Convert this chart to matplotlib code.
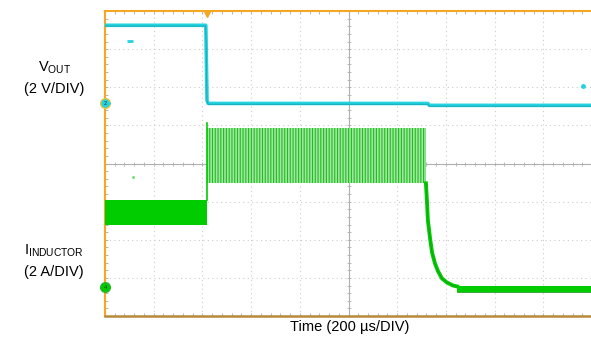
import numpy as np
import matplotlib
matplotlib.use("Agg")
import matplotlib.pyplot as plt

plt.rcParams['font.family'] = ['Liberation Sans', 'DejaVu Sans']
plt.rcParams['mathtext.fontset'] = 'custom'
plt.rcParams['mathtext.rm'] = 'Liberation Sans'
plt.rcParams['hatch.linewidth'] = 0.8

# ---------------- data (physical units) ----------------
# V_OUT trace (time in µs, volts)
vout_t = [0, 414, 419, 424, 1326, 1332, 2000]
vout_v = [4.1, 4.1, 0.15, 0.0, 0.0, -0.1, -0.1]

# Inductor current: normal switching band before the short
i_pre_t = [0, 419]
i_pre_lo = [3.25, 3.25]
i_pre_hi = [4.57, 4.57]

# Current-limit ripple band during the fault
i_fault_t = [419, 1318]
i_fault_lo = [5.46, 5.46]
i_fault_hi = [8.35, 8.35]

# Decay after the output is shut down
i_decay_t = [1318, 1322, 1326, 1335, 1343, 1355, 1368, 1384, 1404, 1429, 1446]
i_decay_i = [5.46, 4.57, 3.52, 2.57, 1.84, 1.26, 0.84, 0.47, 0.26, 0.10, 0.05]

# Residual band after shutdown
i_post_t = [1446, 2000]
i_post_lo = [-0.26, -0.26]
i_post_hi = [0.05, 0.05]

# Stray samples
v_glitch_t = [103, 1963]
v_glitch_v = [3.3, 0.9]
i_glitch_t = [115]
i_glitch_i = [5.77]

# ---------------- scope settings ----------------
time_per_div = 200.0
volt_per_div = 2.0
amp_per_div = 2.0
ch2_offset = 1.575     # divisions
ch4_offset = -3.25     # divisions
trigger_t = 419

cyan = '#22d3e0'
green = '#00cc00'
orange = '#f5a623'

def tx(t):
    return np.asarray(t, dtype=float) / time_per_div

def vy(v):
    return np.asarray(v, dtype=float) / volt_per_div + ch2_offset

def iy(i):
    return np.asarray(i, dtype=float) / amp_per_div + ch4_offset

fig = plt.figure(figsize=(5.91, 3.39), dpi=100)
W, H = 591, 339
ax = fig.add_axes([105 / W, 23 / H, 487 / W, 305 / H])
ax.set_xlim(0, 10)
ax.set_ylim(-4, 4)

# grid
for k in range(1, 10):
    ax.axvline(k, color='#cccccc', lw=0.8, ls=(0, (1, 3)), zorder=1)
for k in range(-3, 4):
    ax.axhline(k, color='#cccccc', lw=0.8, ls=(0, (1, 3)), zorder=1)
ax.axvline(5, color='#b0b0b0', lw=0.8, zorder=1)
ax.axhline(0, color='#b0b0b0', lw=0.8, zorder=1)
minor_x = np.arange(0, 10.01, 0.2)
minor_y = np.arange(-4, 4.01, 0.2)
ax.plot(minor_x, np.zeros_like(minor_x), ls='none', marker='|', ms=3.5, mew=0.6, color='#b0b0b0', zorder=1)
ax.plot(np.full_like(minor_y, 5), minor_y, ls='none', marker='_', ms=3.5, mew=0.6, color='#b0b0b0', zorder=1)

ax.set_xticks([])
ax.set_yticks([])
ax.set_xticks(minor_x, minor=True)
ax.set_yticks(minor_y, minor=True)
ax.tick_params(which='minor', direction='in', length=2.5, width=0.6, color='#aaaaaa',
               top=True, bottom=True, left=True, right=False, labelbottom=False, labelleft=False)

for s in ['left', 'top']:
    ax.spines[s].set_color(orange)
    ax.spines[s].set_linewidth(1.5)
ax.spines['bottom'].set_color('#b8893a')
ax.spines['bottom'].set_linewidth(1.8)
ax.spines['right'].set_visible(False)

# current traces
ax.fill_between(tx(i_pre_t), iy(i_pre_lo), iy(i_pre_hi), color=green, lw=0, zorder=3)
ax.fill_between(tx(i_fault_t), iy(i_fault_lo), iy(i_fault_hi), facecolor='#a0e8a0',
                edgecolor='#22bb22', hatch='||||||', lw=0, zorder=3)
ax.plot([tx(trigger_t)] * 2, [iy(i_pre_hi[0]), iy(i_fault_hi[0]) + 0.15], color=green, lw=1.2, zorder=3)
ax.plot(tx(i_decay_t), iy(i_decay_i), color=green, lw=2.8, solid_joinstyle='round', zorder=3)
ax.plot(tx(i_decay_t), iy(i_decay_i), color='#1a9a1a', lw=0.6, zorder=3)
ax.fill_between(tx(i_post_t), iy(i_post_lo), iy(i_post_hi), color=green, lw=0, zorder=3)
ax.plot(tx(i_post_t), iy(i_post_lo), color='#1a9a1a', lw=0.6, zorder=3)
ax.plot(tx(i_glitch_t), iy(i_glitch_i), ls='none', marker='.', ms=2, color='#66dd66', zorder=3)

# voltage trace
ax.plot(tx(vout_t), vy(vout_v), color=cyan, lw=2.6, zorder=4)
ax.plot(tx(vout_t), vy(vout_v) - 0.02, color='#1a9aa8', lw=0.5, zorder=4)
ax.plot(tx(v_glitch_t[:1]), vy(v_glitch_v[:1]), ls='none', marker='_', ms=5, mew=2, color=cyan, zorder=4)
ax.plot(tx(v_glitch_t[1:]), vy(v_glitch_v[1:]), ls='none', marker='o', ms=2.5, color=cyan, zorder=4)

# channel ground markers and trigger marker
ax.plot([0], [ch2_offset], marker='o', ms=7, color=cyan, mec='#e8c040', mew=1, clip_on=False, zorder=6)
ax.text(0, ch2_offset, '2', fontsize=4, ha='center', va='center', color='#333333', zorder=7)
ax.plot([0.07], [ch2_offset], marker='>', ms=3, color=cyan, clip_on=False, zorder=6)
ax.plot([0], [ch4_offset], marker='o', ms=7, color=green, mec='#30b030', mew=1, clip_on=False, zorder=6)
ax.text(0, ch4_offset, '4', fontsize=4, ha='center', va='center', color='#114411', zorder=7)
ax.plot([0.07], [ch4_offset], marker='>', ms=3, color=green, clip_on=False, zorder=6)
ax.plot([tx(trigger_t)], [3.93], marker='v', ms=5, color=orange, clip_on=False, zorder=6)

# labels
fs = 10.5
fig.text(55 / W, 1 - 68 / H, r'V$_{\mathrm{OUT}}$', fontsize=fs, ha='center', va='center')
fig.text(54 / W, 1 - 89 / H, '(2 V/DIV)', fontsize=fs, ha='center', va='center')
fig.text(54 / W, 1 - 251 / H, r'I$_{\mathrm{INDUCTOR}}$', fontsize=fs, ha='center', va='center')
fig.text(54 / W, 1 - 272 / H, '(2 A/DIV)', fontsize=fs, ha='center', va='center')
fig.text(350 / W, 1 - 327 / H, 'Time (200 µs/DIV)', fontsize=fs, ha='center', va='center')

fig.savefig('out.png', dpi=100)
